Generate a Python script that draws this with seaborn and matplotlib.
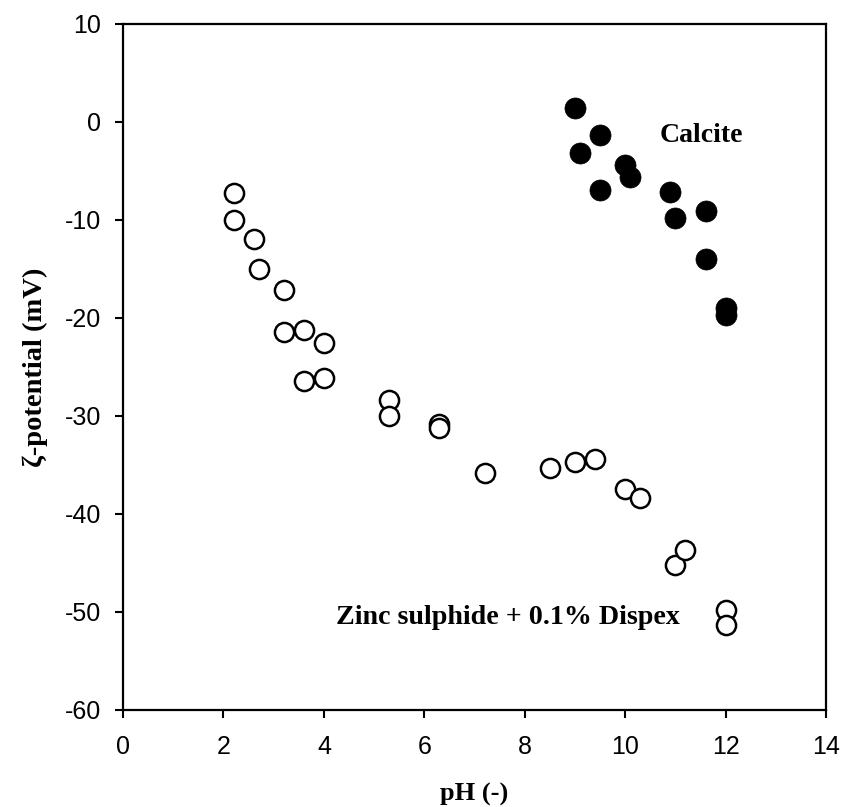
import matplotlib
matplotlib.use("Agg")
import matplotlib.pyplot as plt
import seaborn as sns
import pandas as pd

# Data
zns_ph = [2.2, 2.2, 2.6, 2.7, 3.2, 3.2, 3.6, 3.6, 4.0, 4.0, 5.3, 5.3,
          6.3, 6.3, 7.2, 8.5, 9.0, 9.4, 10.0, 10.3, 11.0, 11.2, 12.0, 12.0]
zns_zeta = [-7.2, -10.0, -11.9, -15.0, -17.1, -21.4, -21.2, -26.4, -22.6, -26.1, -28.4, -30.0,
            -30.8, -31.2, -35.8, -35.3, -34.7, -34.4, -37.4, -38.4, -45.2, -43.7, -49.8, -51.3]
cal_ph = [9.0, 9.5, 9.1, 10.0, 10.1, 9.5, 10.9, 11.0, 11.6, 11.6, 12.0, 12.0]
cal_zeta = [1.4, -1.3, -3.2, -4.4, -5.6, -6.9, -7.1, -9.8, -9.1, -14.0, -19.0, -19.7]

x_ticks = [0, 2, 4, 6, 8, 10, 12, 14]
y_ticks = [-60, -50, -40, -30, -20, -10, 0, 10]

sns.set_theme(style="ticks")
plt.rcParams['font.family'] = ['Liberation Sans', 'DejaVu Sans']
plt.rcParams['axes.unicode_minus'] = False
plt.rcParams['text.color'] = 'black'
plt.rcParams['axes.labelcolor'] = 'black'
plt.rcParams['xtick.color'] = 'black'
plt.rcParams['ytick.color'] = 'black'

zns = pd.DataFrame({"pH": zns_ph, "zeta": zns_zeta})
cal = pd.DataFrame({"pH": cal_ph, "zeta": cal_zeta})

fig = plt.figure(figsize=(8.45, 8.07), dpi=100)
ax = fig.add_axes([0.1456, 0.1202, 0.8320, 0.8501])

sns.scatterplot(data=zns, x="pH", y="zeta", ax=ax, s=190, facecolor="white",
                edgecolor="black", linewidth=1.8, zorder=3)
sns.scatterplot(data=cal, x="pH", y="zeta", ax=ax, s=230, color="black",
                edgecolor="black", linewidth=0.5, zorder=3)

ax.set_xlim(0, 14)
ax.set_ylim(-60, 10)
ax.set_xticks(x_ticks)
ax.set_yticks(y_ticks)
ax.tick_params(axis="both", direction="out", length=6, width=1.5, labelsize=18,
               colors="black", labelcolor="black")
ax.tick_params(axis="x", pad=12)
ax.tick_params(axis="y", pad=10)
for sp in ax.spines.values():
    sp.set_linewidth(1.6)
    sp.set_color("black")

serif = ['Liberation Serif', 'DejaVu Serif']
ax.set_xlabel("pH (-)", family=serif, fontweight="bold", fontsize=19, labelpad=17,
              color="black")
ax.set_ylabel("ζ-potential (mV)", family=serif, fontweight="bold", fontsize=20.5,
              labelpad=12, color="black")

ax.text(10.68, -2.0, "Calcite", family=serif, fontweight="bold", fontsize=20,
        ha="left", va="baseline", color="black")
ax.text(4.24, -51.2, "Zinc sulphide + 0.1% Dispex", family=serif, fontweight="bold",
        fontsize=20.2, ha="left", va="baseline", color="black")

fig.savefig("out.png", dpi=100)
